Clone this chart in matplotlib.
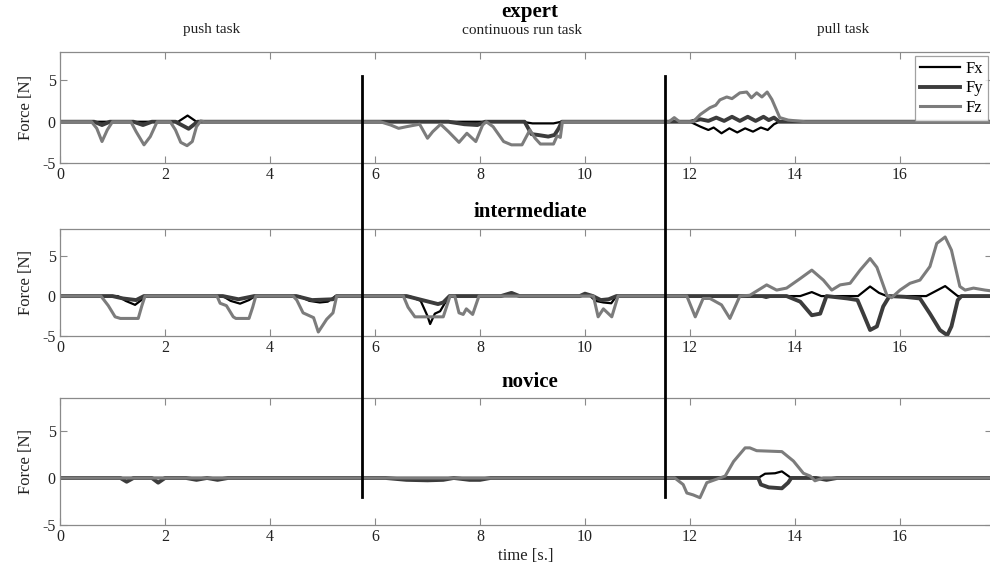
import matplotlib
matplotlib.use("Agg")
import matplotlib.pyplot as plt
from matplotlib.lines import Line2D

plt.rcParams['font.family'] = ['Liberation Serif', 'DejaVu Serif']
plt.rcParams['axes.unicode_minus'] = False

# ---------------- data ----------------
series_names = ["Fx", "Fy", "Fz"]
panel_titles = ["expert", "intermediate", "novice"]
task_labels = ["push task", "continuous run task", "pull task"]
task_bounds = [5.75, 11.53]
x_ticks = [0, 2, 4, 6, 8, 10, 12, 14, 16]
y_ticks = [-5, 0, 5]

# expert
expert_fx_t = [0, 2.25, 2.43, 2.6, 8.8, 9.0, 9.4, 9.55, 12.0, 12.2, 12.35, 12.45, 12.6, 12.75,
               12.9, 13.05, 13.2, 13.35, 13.48, 13.6, 13.7, 17.8]
expert_fx_v = [0, 0, 0.75, 0, 0, -0.2, -0.2, 0, 0, -0.6, -1.0, -0.7, -1.4, -0.8,
               -1.3, -0.8, -1.2, -0.7, -1.0, -0.3, 0, 0]
expert_fy_t = [0, 0.65, 0.8, 0.95, 1.4, 1.58, 1.75, 2.2, 2.45, 2.62, 7.4, 7.7, 7.95, 8.1,
               8.85, 8.98, 9.1, 9.3, 9.42, 9.5, 9.56, 12.0, 12.2, 12.35, 12.5, 12.65, 12.8,
               12.95, 13.1, 13.25, 13.4, 13.5, 13.6, 13.7, 17.8]
expert_fy_v = [0, 0, -0.4, 0, 0, -0.4, 0, 0, -0.85, 0, 0, -0.3, -0.4, 0,
               0, -1.5, -1.6, -1.8, -1.6, -0.8, 0, 0, 0.3, 0.1, 0.5, 0.1, 0.6,
               0.1, 0.6, 0.1, 0.6, 0.2, 0.5, 0, 0]
expert_fz_t = [0, 0.6, 0.7, 0.8, 0.9, 1.0, 1.35, 1.45, 1.6, 1.72, 1.85, 2.1, 2.2, 2.3, 2.42,
               2.52, 2.6, 2.68, 2.75, 6.1, 6.3, 6.45, 6.6, 6.85, 7.0, 7.1, 7.25, 7.4, 7.6,
               7.75, 7.92, 8.05, 8.12, 8.25, 8.45, 8.6, 8.8, 8.95, 9.05, 9.15, 9.4, 9.47,
               9.53, 9.57, 11.6, 11.7, 11.8, 12.06, 12.2, 12.38, 12.49, 12.57, 12.7, 12.8,
               12.95, 13.08, 13.17, 13.27, 13.37, 13.47, 13.56, 13.71, 13.87, 14.2, 17.8]
expert_fz_v = [0, 0, -0.8, -2.4, -1.0, 0, 0, -1.2, -2.8, -1.8, 0, 0, -1.0, -2.5, -2.9,
               -2.4, -0.6, 0.1, 0, 0, -0.4, -0.8, -0.6, -0.3, -2.0, -1.2, -0.3, -1.2, -2.5,
               -1.4, -2.4, -0.4, 0, -0.6, -2.4, -2.8, -2.8, -1.0, -2.0, -2.7, -2.7, -1.7,
               -1.9, 0, 0, 0.5, 0, 0, 0.9, 1.7, 2.0, 2.65, 3.0, 2.8,
               3.5, 3.6, 2.9, 3.5, 3.0, 3.6, 2.7, 0.5, 0.2, 0, 0]

# intermediate
inter_fx_t = [0, 1.1, 1.25, 1.43, 1.55, 1.62, 3.1, 3.25, 3.43, 3.6, 3.72, 4.55, 4.75, 4.95,
              5.1, 5.25, 6.65, 6.87, 7.0, 7.05, 7.14, 7.24, 7.33, 7.43, 10.1, 10.2, 10.35,
              10.5, 10.6, 13.3, 13.45, 13.6, 14.1, 14.32, 14.5, 15.2, 15.43, 15.6, 15.75,
              16.5, 16.86, 17.1, 17.8]
inter_fx_v = [0, 0, -0.6, -1.1, -0.5, 0, 0, -0.6, -0.95, -0.5, 0, 0, -0.6, -0.8,
              -0.7, 0, 0, -0.6, -2.5, -3.5, -2.2, -1.9, -0.9, 0, 0, -0.6, -0.8,
              -0.9, 0, 0, -0.2, 0, 0, 0.5, 0, 0, 1.2, 0.4, 0,
              0, 1.25, 0, 0]
inter_fy_t = [0, 1.0, 1.2, 1.45, 1.6, 3.1, 3.4, 3.7, 4.5, 4.8, 5.2, 5.27, 6.6, 6.9, 7.2,
              7.3, 7.42, 8.4, 8.6, 8.75, 9.9, 10.0, 10.15, 10.3, 10.45, 10.6, 13.84, 14.1,
              14.32, 14.48, 14.6, 15.0, 15.19, 15.3, 15.43, 15.56, 15.68, 15.8, 16.1,
              16.38, 16.57, 16.76, 16.9, 16.98, 17.1, 17.17, 17.8]
inter_fy_v = [0, 0, -0.3, -0.5, 0, 0, -0.4, 0, 0, -0.5, -0.4, 0, 0, -0.5, -1.0,
              -0.8, 0, 0, 0.4, 0, 0, 0.3, 0, -0.5, -0.4, 0, 0, -0.7,
              -2.4, -2.2, 0, -0.3, -0.5, -2.2, -4.25, -3.8, -1.3, 0, -0.1,
              -0.3, -2.2, -4.25, -4.9, -3.8, -0.5, 0, 0]
inter_fz_t = [0, 0.78, 0.92, 1.05, 1.15, 1.49, 1.56, 1.62, 2.99, 3.05, 3.17, 3.3, 3.35, 3.6,
              3.67, 3.73, 4.44, 4.51, 4.63, 4.83, 4.92, 5.08, 5.2, 5.27, 6.54, 6.63, 6.76,
              7.3, 7.43, 7.52, 7.6, 7.68, 7.74, 7.86, 7.98, 10.16, 10.25, 10.35, 10.51,
              10.63, 11.94, 12.1, 12.25, 12.38, 12.6, 12.76, 12.95, 13.14, 13.46, 13.65,
              13.84, 14.1, 14.32, 14.54, 14.7, 14.86, 15.05, 15.24, 15.43, 15.56, 15.75,
              15.84, 16.0, 16.19, 16.38, 16.57, 16.7, 16.86, 16.98, 17.14, 17.24, 17.4,
              17.62, 17.8]
inter_fz_v = [0, 0, -1.2, -2.6, -2.8, -2.8, -1.2, 0, 0, -0.9, -1.2, -2.6, -2.8, -2.8,
              -1.4, 0, 0, -0.5, -2.1, -2.7, -4.5, -2.9, -2.1, 0, 0, -1.4, -2.6,
              -2.6, 0, 0, -2.1, -2.3, -1.6, -2.3, 0, 0, -2.6, -1.6, -2.6,
              0, 0, -2.6, -0.3, -0.3, -1.1, -2.8, 0, 0.1, 1.4, 0.75,
              1.0, 2.2, 3.25, 2.0, 0.75, 1.4, 1.6, 3.25, 4.7, 3.6, 0.1,
              -0.2, 0.75, 1.6, 2.0, 3.7, 6.6, 7.4, 5.75, 1.2, 0.75, 1.0,
              0.75, 0.6]

# novice
novice_fx_t = [0, 13.3, 13.43, 13.62, 13.75, 13.9, 13.93, 17.8]
novice_fx_v = [0, 0, 0.45, 0.5, 0.7, 0.1, 0, 0]
novice_fy_t = [0, 1.15, 1.27, 1.4, 1.75, 1.87, 2.0, 2.4, 2.6, 2.8, 3.0, 3.2, 6.2, 6.6, 7.0,
               7.3, 7.5, 7.8, 8.0, 8.2, 13.3, 13.35, 13.5, 13.75, 13.87, 13.93, 14.4, 14.6,
               14.8, 17.8]
novice_fy_v = [0, 0, -0.4, 0, 0, -0.5, 0, 0, -0.2, 0, -0.2, 0, 0, -0.2, -0.25,
               -0.2, 0, -0.2, -0.2, 0, 0, -0.7, -1.0, -1.1, -0.5, 0, 0, -0.2,
               0, 0]
novice_fz_t = [0, 11.71, 11.87, 11.94, 12.06, 12.19, 12.32, 12.57, 12.67, 12.83, 13.05,
               13.14, 13.27, 13.75, 13.97, 14.16, 14.29, 14.38, 14.54, 17.8]
novice_fz_v = [0, 0, -0.7, -1.6, -1.8, -2.1, -0.5, 0, 0.2, 1.75, 3.2,
               3.2, 2.9, 2.8, 1.8, 0.5, 0.2, -0.3, 0, 0]

panels = [
    [(expert_fx_t, expert_fx_v), (expert_fy_t, expert_fy_v), (expert_fz_t, expert_fz_v)],
    [(inter_fx_t, inter_fx_v), (inter_fy_t, inter_fy_v), (inter_fz_t, inter_fz_v)],
    [(novice_fx_t, novice_fx_v), (novice_fy_t, novice_fy_v), (novice_fz_t, novice_fz_v)],
]

# ---------------- styling ----------------
W, H = 990, 566
fig = plt.figure(figsize=(W / 100, H / 100), dpi=100)

# axes boxes in pixels: (left, top, right, bottom)
boxes = [(60, 52, 992, 163), (60, 229, 992, 336), (60, 398, 992, 525)]
ylims = [(-5, 8.45), (-5, 8.4), (-5, 8.5)]
styles = [dict(color='black', lw=1.6),
          dict(color='#3c3c3c', lw=2.8),
          dict(color='#7c7c7c', lw=2.2)]
spine_col = '#8a8a8a'
xmax = (992 - 60) / 52.5

axes = []
for i, (l, t, r, b) in enumerate(boxes):
    ax = fig.add_axes([l / W, 1 - b / H, (r - l) / W, (b - t) / H])
    for (tt, vv), st, name in zip(panels[i], styles, series_names):
        ax.plot(tt, vv, label=name, solid_joinstyle='round', **st)
    ax.set_xlim(0, xmax)
    ax.set_ylim(*ylims[i])
    ax.set_xticks(x_ticks)
    ax.set_yticks(y_ticks)
    ax.tick_params(direction='in', top=True, right=True, length=5, width=0.8,
                   color=spine_col, labelsize=11.5, labelcolor='#222222', pad=3)
    for s in ax.spines.values():
        s.set_color(spine_col)
        s.set_linewidth(0.9)
    ax.set_ylabel('Force [N]', fontsize=12, color='#222222', labelpad=6)
    axes.append(ax)

# legend in top panel
leg = axes[0].legend(loc='upper right', fontsize=12, frameon=True, fancybox=False,
                     edgecolor=spine_col, handlelength=2.4, handletextpad=0.3,
                     borderpad=0.3, labelspacing=0.2, borderaxespad=0.25)
leg.get_frame().set_linewidth(0.9)

# titles
title_y = [12, 212, 382]
for ty, txt in zip(title_y, panel_titles):
    fig.text(530 / W, 1 - ty / H, txt, ha='center', va='center', fontsize=15,
             fontweight='bold')
task_x = [212, 522, 843]
for tx, txt in zip(task_x, task_labels):
    fig.text(tx / W, 1 - 30 / H, txt, ha='center', va='center', fontsize=11,
             color='#222222')
fig.text(526 / W, 1 - 556 / H, 'time [s.]', ha='center', va='center', fontsize=12,
         color='#222222')

# vertical task separators spanning the panels
fig.canvas.draw()
inv = fig.transFigure.inverted()
for xb in task_bounds:
    p_top = inv.transform(axes[0].transData.transform((xb, 5.6)))
    p_bot = inv.transform(axes[2].transData.transform((xb, -2.0)))
    fig.add_artist(Line2D([p_top[0], p_bot[0]], [p_top[1], p_bot[1]],
                          transform=fig.transFigure, color='black', lw=2.0))

fig.savefig('out.png', dpi=100)
